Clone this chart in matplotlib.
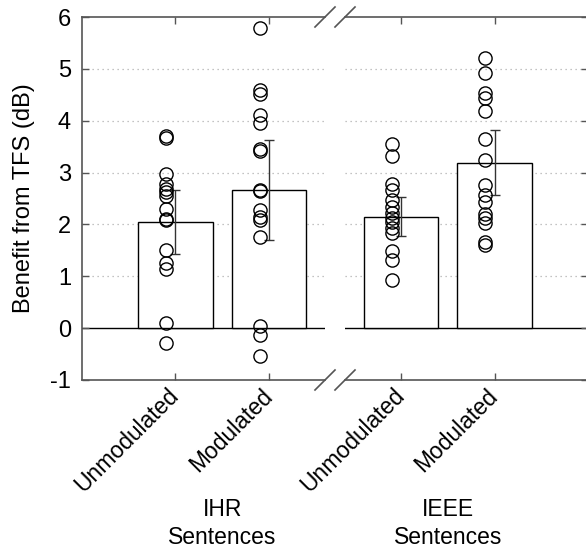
import matplotlib.pyplot as plt
import matplotlib.transforms as mtransforms
import numpy as np

plt.rcParams["font.family"] = ["Liberation Sans", "DejaVu Sans"]

# --- Data ---
conditions = ["Unmodulated", "Modulated"]
groups = ["IHR\nSentences", "IEEE\nSentences"]

ihr_means = [2.05, 2.66]
ihr_errors = [0.62, 0.96]
ieee_means = [2.15, 3.19]
ieee_errors = [0.38, 0.63]

ihr_unmod = [3.70, 3.67, 2.98, 2.77, 2.69, 2.63, 2.55, 2.29, 2.10, 2.08, 1.50, 1.25, 1.15, 0.10, -0.28]
ihr_mod = [5.79, 4.59, 4.51, 4.11, 3.95, 3.45, 3.41, 2.67, 2.65, 2.28, 2.15, 2.08, 1.76, 0.04, -0.13, -0.54]
ieee_unmod = [3.56, 3.32, 2.78, 2.67, 2.47, 2.34, 2.22, 2.12, 2.05, 1.93, 1.83, 1.49, 1.31, 0.93]
ieee_mod = [5.21, 4.92, 4.54, 4.43, 4.18, 3.64, 3.24, 2.76, 2.56, 2.44, 2.21, 2.12, 2.03, 1.66, 1.60]

yticks = [-1, 0, 1, 2, 3, 4, 5, 6]

# --- Figure setup ---
fig = plt.figure(figsize=(5.86, 5.52), dpi=100)
W, H = 586, 552
ax1 = fig.add_axes([82 / W, (H - 380) / H, 243 / W, 363 / H])
ax2 = fig.add_axes([345 / W, (H - 380) / H, 243 / W, 363 / H])

spine_color = "#555555"
tick_size = 16.5
label_size = 17
positions = np.arange(1, len(conditions) + 1)
point_offset = -0.1

panels = [
    (ax1, ihr_means, ihr_errors, [ihr_unmod, ihr_mod], groups[0], (0.0, 2.6)),
    (ax2, ieee_means, ieee_errors, [ieee_unmod, ieee_mod], groups[1], (0.4, 3.0)),
]

for ax, means, errors, points, group, xlim in panels:
    ax.set_xlim(*xlim)
    ax.set_ylim(-1, 6)
    for y in [1, 2, 3, 4, 5]:
        ax.axhline(y, color="#b0b0b0", linestyle=(0, (1, 3)), linewidth=0.9, zorder=0)
    ax.axhline(0, color="black", linewidth=1.0, zorder=1)
    ax.bar(positions, means, width=0.8, facecolor="white", edgecolor="black",
           linewidth=1.0, zorder=2)
    ax.errorbar(positions, means, yerr=errors, fmt="none", ecolor="#333333",
                elinewidth=1.0, capsize=3.5, capthick=1.0, zorder=3)
    for pos, vals in zip(positions, points):
        ax.plot(np.full(len(vals), pos + point_offset), vals, "o", markersize=9.5,
                markerfacecolor="none", markeredgecolor="black", markeredgewidth=1.0,
                zorder=4, clip_on=False)

    ax.set_xticks(positions)
    ax.set_xticklabels(conditions, rotation=45, ha="right", va="center",
                       rotation_mode="anchor", fontsize=tick_size)
    ax.set_yticks(yticks)
    ax.tick_params(axis="both", direction="in", length=5, color=spine_color, width=1.0)
    ax.tick_params(axis="x", top=True, pad=9)
    for s in ax.spines.values():
        s.set_color(spine_color)
        s.set_linewidth(1.2)

    trans = mtransforms.blended_transform_factory(ax.transData, ax.transAxes)
    top, bottom = group.split("\n")
    ax.text(1.5, -0.358, top, transform=trans, ha="center", va="center", fontsize=tick_size)
    ax.text(1.5, -0.435, bottom, transform=trans, ha="center", va="center", fontsize=tick_size)

ax1.spines["right"].set_visible(False)
ax2.spines["left"].set_visible(False)
ax1.set_yticklabels([str(v) for v in yticks], fontsize=label_size)
ax1.tick_params(axis="y", pad=8)
ax2.tick_params(axis="y", left=False, right=True, labelleft=False)
ax1.set_ylabel("Benefit from TFS (dB)", fontsize=label_size, labelpad=11)

# --- Axis break marks ---
d = 10
for ax, xa in [(ax1, 1.0), (ax2, 0.0)]:
    bbox = ax.get_position()
    dx = d / (bbox.width * W)
    dy = d / (bbox.height * H)
    for ya in (0.0, 1.0):
        ax.plot([xa - dx, xa + dx], [ya - dy, ya + dy], transform=ax.transAxes,
                color=spine_color, linewidth=1.2, clip_on=False)

fig.savefig("out.png", dpi=100)
